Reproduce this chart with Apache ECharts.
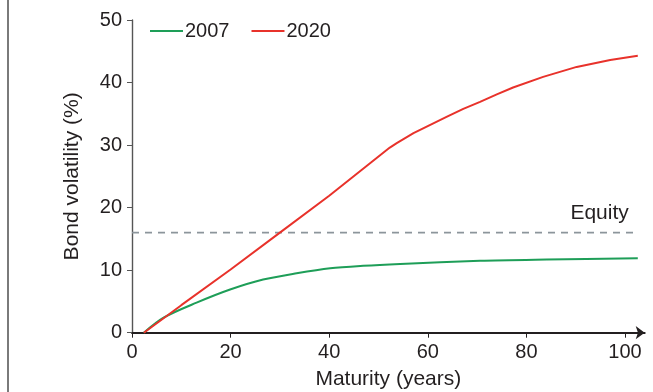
<!DOCTYPE html>
<html>
<head>
<meta charset="utf-8">
<script src="https://cdn.jsdelivr.net/npm/echarts@6/dist/echarts.min.js"></script>
<style>
html,body{margin:0;padding:0;background:#fff;}
#c{width:653px;height:392px;}
</style>
</head>
<body>
<div id="c"></div>
<script>
// Data
var seriesNames = ['2007', '2020'];
var maturity2007 = [2.4, 6.4, 13.1, 19.9, 26.6, 33.4, 40.2, 46.9, 54.4, 70.6, 84.1, 102.6];
var vol2007 =      [0, 2.4, 4.8, 6.9, 8.5, 9.5, 10.3, 10.7, 11.0, 11.5, 11.7, 11.9];
var maturity2020 = [2.4, 10, 20, 30, 40, 52.3, 53.7, 57.1, 60.4, 63.8, 67.2, 70.6, 74.0, 77.3, 83.4, 90.2, 97.0, 102.6];
var vol2020 =      [0, 4.4, 10.1, 16.0, 21.9, 29.6, 30.3, 31.9, 33.2, 34.5, 35.8, 36.9, 38.1, 39.2, 40.9, 42.5, 43.6, 44.3];
var equityX = [0, 102.6];
var equityY = [16, 16];
var equityLabel = 'Equity';
var xTicks = [0, 20, 40, 60, 80, 100];
var yTicks = [0, 10, 20, 30, 40, 50];

function pairs(xs, ys) { return xs.map(function (x, i) { return [x, ys[i]]; }); }

var FONT = '"Liberation Sans", Arial, Helvetica, sans-serif';
var TXT = '#231f20';
var chart = echarts.init(document.getElementById('c'), null, {renderer: 'canvas'});

chart.setOption({
  animation: false,
  backgroundColor: '#fff',
  grid: {left: 132, top: 20, width: 512.7, height: 312.7, containLabel: false, outerBoundsMode: 'none'},
  legend: {
    data: seriesNames,
    left: 145, top: 16,
    icon: 'rect', itemWidth: 33, itemHeight: 2, itemGap: 22,
    textStyle: {fontSize: 20, color: TXT, fontFamily: FONT, padding: [0, 0, 0, -3]}
  },
  xAxis: {
    type: 'value', min: 0, max: 104,
    name: 'Maturity (years)', nameLocation: 'middle', nameGap: 36,
    nameTextStyle: {fontSize: 21, color: TXT, fontFamily: FONT},
    axisLine: {show: true, onZero: false, lineStyle: {color: TXT, width: 2}, symbol: ['none', 'arrow'], symbolSize: [10, 9]},
    axisTick: {show: true, length: 5, customValues: xTicks, lineStyle: {color: TXT, width: 1}},
    axisLabel: {fontSize: 20, color: TXT, fontFamily: FONT, margin: 10, customValues: xTicks},
    splitLine: {show: false}
  },
  yAxis: {
    type: 'value', min: 0, max: 50, interval: 10,
    name: 'Bond volatility (%)', nameLocation: 'middle', nameGap: 49, nameRotate: 90,
    nameTextStyle: {fontSize: 21, color: TXT, fontFamily: FONT},
    axisLine: {show: true, lineStyle: {color: '#555', width: 1.4}},
    axisTick: {show: true, length: 5, customValues: yTicks, lineStyle: {color: '#555', width: 1}},
    axisLabel: {fontSize: 20, color: TXT, fontFamily: FONT, margin: 10, customValues: yTicks},
    splitLine: {show: false}
  },
  graphic: [{
    type: 'rect', shape: {x: 7, y: 0, width: 2, height: 392}, style: {fill: '#7a7a7a'}, silent: true
  }],
  series: [
    {
      name: 'Equity', type: 'line', data: pairs(equityX, equityY), symbol: 'none', showSymbol: false,
      lineStyle: {color: '#8c959b', width: 1.6, type: [7, 6]}, z: 1, silent: true,
      markPoint: {
        symbol: 'circle', symbolSize: 0, silent: true,
        data: [{coord: [equityX[1], equityY[1]]}],
        label: {show: true, formatter: equityLabel, position: 'top', align: 'right', distance: 9, offset: [-9, 0],
                color: TXT, fontSize: 21, fontFamily: FONT}
      }
    },
    {
      name: seriesNames[0], type: 'line', data: pairs(maturity2007, vol2007), smooth: 0.3,
      symbol: 'none', color: '#1e9e58', lineStyle: {color: '#1e9e58', width: 2}, z: 3
    },
    {
      name: seriesNames[1], type: 'line', data: pairs(maturity2020, vol2020), smooth: false,
      symbol: 'none', color: '#e8322b', lineStyle: {color: '#e8322b', width: 2}, z: 4
    }
  ]
});
</script>
</body>
</html>
